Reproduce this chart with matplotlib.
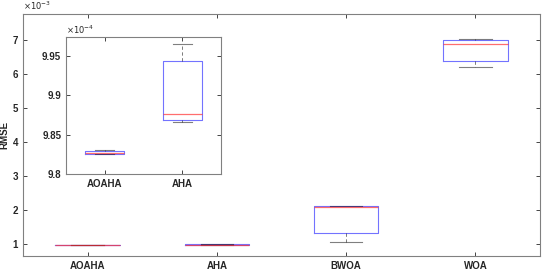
import matplotlib
matplotlib.use("Agg")
import matplotlib.pyplot as plt

plt.rcParams['font.family'] = ['Liberation Sans', 'DejaVu Sans']

categories = ["AOAHA", "AHA", "BWOA", "WOA"]
# values in units of 1e-3
whislo = [0.982, 0.9866, 1.07, 6.20]
q1 = [0.9825, 0.9869, 1.32, 6.37]
med = [0.9826, 0.9876, 2.09, 6.87]
q3 = [0.9829, 0.9943, 2.11, 6.99]
whishi = [0.9830, 0.9965, 2.12, 7.04]

inset_categories = ["AOAHA", "AHA"]
# values in units of 1e-4
in_whislo = [9.825, 9.8662]
in_q1 = [9.8252, 9.8687]
in_med = [9.8263, 9.876]
in_q3 = [9.8293, 9.9434]
in_whishi = [9.8305, 9.9654]

main_yticks = [1, 2, 3, 4, 5, 6, 7]
inset_yticks = [9.8, 9.85, 9.9, 9.95]

axcol = '#262626'

def stats(lo, a, m, b, hi):
    return [dict(whislo=lo[i], q1=a[i], med=m[i], q3=b[i], whishi=hi[i], fliers=[])
            for i in range(len(lo))]

def draw(ax, st, labels):
    ax.bxp(st, widths=0.5, showfliers=False,
           boxprops=dict(color='#0000ff', lw=0.8, alpha=0.55, zorder=2),
           medianprops=dict(color='#ff3030', lw=0.9, alpha=0.7, zorder=3),
           whiskerprops=dict(color='#000000', lw=0.6, ls=(0, (4, 3)), alpha=0.6),
           capprops=dict(color='#000000', lw=0.8, alpha=0.5),
           capwidths=0.25)
    ax.set_xticks(range(1, len(labels) + 1))
    ax.set_xticklabels(labels, fontweight='bold')
    ax.set_xlim(0.5, len(labels) + 0.5)
    ax.tick_params(direction='in', top=True, right=True, length=3, width=0.6,
                   colors=axcol, labelsize=7)
    for s in ax.spines.values():
        s.set_color('#808080')
        s.set_linewidth(0.8)

fig = plt.figure(figsize=(5.5, 2.71), dpi=100)
ax = fig.add_axes([23/550, 1 - 256/271, (540 - 23)/550, (256 - 14)/271])
draw(ax, stats(whislo, q1, med, q3, whishi), categories)
ax.set_ylim(0.65, 7.76)
ax.set_yticks(main_yticks)
ax.set_yticklabels([str(t) for t in main_yticks], fontweight='bold')
ax.set_ylabel('RMSE', fontweight='bold', fontsize=7, labelpad=2, color=axcol)
ax.text(0.0, 1.01, r'$\times10^{-3}$', transform=ax.transAxes, fontsize=6,
        ha='left', va='bottom', color=axcol)

ins = fig.add_axes([66/550, 1 - 174/271, (221 - 66)/550, (174 - 37)/271])
draw(ins, stats(in_whislo, in_q1, in_med, in_q3, in_whishi), inset_categories)
ins.set_ylim(9.8, 9.9745)
ins.set_yticks(inset_yticks)
ins.set_yticklabels([f"{t:g}" for t in inset_yticks], fontweight='bold')
ins.text(0.0, 1.01, r'$\times10^{-4}$', transform=ins.transAxes, fontsize=6,
         ha='left', va='bottom', color=axcol)

fig.savefig('out.png', dpi=100)
